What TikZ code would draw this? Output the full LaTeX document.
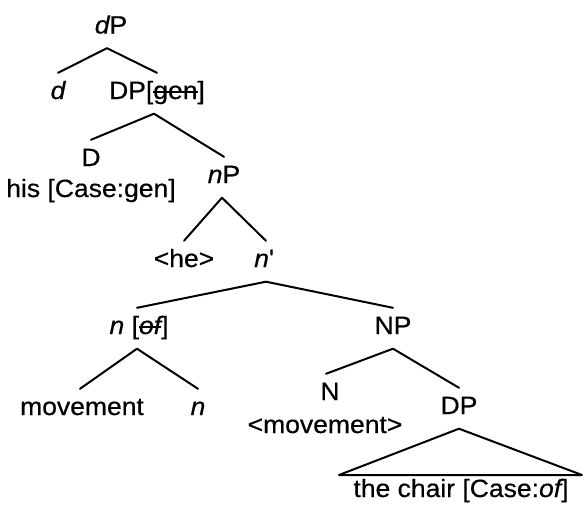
\documentclass[tikz,border=0pt]{standalone}
\usepackage{fontspec}
\setmainfont{Liberation Sans}[FakeStretch=1.06,FakeBold=0.5]
% struck-through feature value
\newcommand\strk[1]{\setbox0\hbox{#1}\rlap{\rule[0.24em]{\wd0}{0.08em}}\box0}
\begin{document}
\begin{tikzpicture}[x=1pt,y=-1pt,
  lbl/.style={anchor=base,inner xsep=0pt,inner ysep=9pt,text height=17pt,text depth=5.5pt,
    font=\fontsize{25}{29}\selectfont},
  branch/.style={line width=2pt,line cap=round,line join=round},
]
\useasboundingbox (0,0) rectangle (584,504);

% labels
\node[lbl] (dP)    at (111,33.5) {{\itshape d}P};
\node[lbl] (d)     at (58,99)    {\itshape d};
\node[lbl] (DPgen) at (157,99)   {DP[\strk{gen}]};
\node[lbl] (D)     at (91,166)   {D};
\node[lbl] (his)   at (91,197)   {his [Case:gen]};
\node[lbl] (nP)    at (224,183)  {{\itshape n}P};
\node[lbl] (he)    at (184,267)  {<he>};
\node[lbl] (nbar)  at (264,267)  {{\itshape n}\textquotesingle};
\node[lbl] (nof)   at (139,334)  {{\itshape n} [\strk{\itshape of}]};
\node[lbl] (NP)    at (393,334)  {NP};
\node[lbl] (mov)   at (82,415)   {movement};
\node[lbl] (nhead) at (198,415)  {\itshape n};
\node[lbl] (N)     at (330,400)  {N};
\node[lbl] (movtr) at (325,433)  {<movement>};
\node[lbl] (DPl)   at (459,414)  {DP};
\node[lbl] (chair) at (461,497)  {the chair [Case:{\itshape of}]};

% triangle base corners
\coordinate (tl) at (339,475);
\coordinate (tr) at (582,475);

% branches
\draw[branch] (d.north) -- ([xshift=-4pt]dP.south) -- (DPgen.north);
\draw[branch] (D.north) -- ([xshift=-3pt]DPgen.south) -- (nP.north);
\draw[branch] (he.north) -- ([xshift=-2pt]nP.south) -- ([xshift=2pt]nbar.north);
\draw[branch] ([xshift=-2pt]nof.north) -- ([xshift=2pt]nbar.south) -- (NP.north);
\draw[branch] ([xshift=-2pt]mov.north) -- ([xshift=-2pt]nof.south) -- (nhead.north);
\draw[branch] ([xshift=-4pt]N.north) -- (NP.south) -- (DPl.north);
\draw[branch] (DPl.south) -- (tl) -- (tr) -- cycle;
\end{tikzpicture}
\end{document}
